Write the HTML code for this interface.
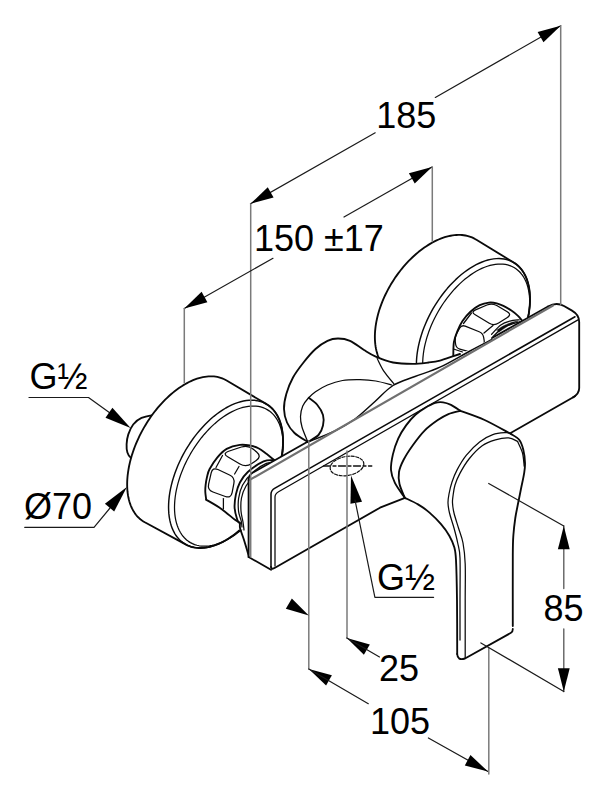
<!DOCTYPE html>
<html><head><meta charset="utf-8"><style>
html,body{margin:0;padding:0;background:#fff;}
svg{display:block;}
text{font-family:"Liberation Sans",sans-serif;}
</style></head><body>
<svg width="606" height="800" viewBox="0 0 606 800" stroke-linecap="round" stroke-linejoin="round">
<rect width="606" height="800" fill="#fff"/>
<path d="M374.88,337.95 L374.88,335.71 L374.96,333.43 L375.1,331.13 L375.32,328.79 L375.6,326.42 L375.96,324.03 L376.38,321.62 L376.88,319.19 L377.45,316.74 L378.08,314.28 L378.78,311.81 L379.55,309.34 L380.38,306.85 L381.28,304.37 L382.24,301.89 L383.26,299.42 L384.35,296.95 L385.49,294.49 L386.7,292.05 L387.96,289.63 L389.27,287.22 L390.64,284.84 L392.07,282.48 L393.54,280.15 L395.06,277.86 L396.63,275.6 L398.24,273.37 L399.9,271.19 L401.6,269.04 L403.33,266.95 L405.11,264.9 L406.91,262.9 L408.75,260.95 L410.62,259.06 L412.52,257.22 L414.44,255.45 L416.39,253.74 L418.36,252.09 L420.35,250.5 L422.35,248.98 L424.36,247.54 L426.39,246.16 L428.43,244.86 L430.47,243.63 L432.51,242.48 L434.56,241.4 L436.6,240.41 L438.65,239.49 L440.68,238.66 L442.71,237.9 L444.72,237.23 L446.72,236.65 L448.71,236.15 L450.68,235.73 L452.62,235.4 L454.55,235.15 L456.44,235 L458.31,234.92 L460.15,234.94 L461.96,235.04 L463.73,235.23 L465.47,235.5 L467.16,235.86 L468.82,236.31 L470.43,236.84 L472,237.46 L473.52,238.15 L474.99,238.94 L476.41,239.8 L514.07,262.74 L515.42,263.63 L516.72,264.61 L517.97,265.67 L519.16,266.81 L520.3,268.02 L521.38,269.32 L522.4,270.69 L523.36,272.14 L524.26,273.66 L525.1,275.25 L525.87,276.91 L526.58,278.64 L527.23,280.43 L527.81,282.29 L528.32,284.2 L528.77,286.18 L529.15,288.21 L529.46,290.29 L529.7,292.42 L529.87,294.6 L529.97,296.83 L530.01,299.1 L529.97,301.41 L529.87,303.76 L529.7,306.14 L529.46,308.55 L529.15,310.99 L528.77,313.46 L528.32,315.94 L527.81,318.45 L527.23,320.98 L526.58,323.51 L525.87,326.06 L525.1,328.62 L524.26,331.18 L523.36,333.74 L522.4,336.29 L521.38,338.85 L520.3,341.39 L519.16,343.92 L517.97,346.44 L516.72,348.94 L515.42,351.42 L514.07,353.88 L512.66,356.3 L511.21,358.7 L509.72,361.07 L508.18,363.4 L506.59,365.69 L504.97,367.94 L503.3,370.15 L501.6,372.31 L499.87,374.42 L498.1,376.48 L496.31,378.49 L494.48,380.44 L492.63,382.33 L490.76,384.15 L488.86,385.92 L486.94,387.62 L485.01,389.25 L483.06,390.81 L481.11,392.3 L479.14,393.71 L477.16,395.05 L475.18,396.32 L473.2,397.5 L471.22,398.6 L469.24,399.63 L467.26,400.57 L465.29,401.43 L463.34,402.2 L461.39,402.89 L459.46,403.49 L457.54,404 L455.64,404.43 L453.77,404.76 L451.92,405.01 L450.09,405.17 L448.3,405.24 L446.53,405.22 L444.8,405.11 L443.1,404.91 L441.43,404.63 L439.81,404.25 L438.22,403.79 L436.68,403.24 L435.19,402.6 L433.74,401.87 L432.33,401.06 L430.98,400.17 L389.24,371.34 L387.93,370.31 L386.67,369.21 L385.46,368.03 L384.32,366.78 L383.24,365.45 L382.21,364.05 L381.25,362.58 L380.36,361.04 L379.53,359.43 L378.76,357.76 L378.06,356.03 L377.43,354.23 L376.87,352.38 L376.37,350.46 L375.95,348.5 L375.59,346.48 L375.31,344.42 L375.1,342.3 L374.95,340.14Z" stroke="#0a0a0a" stroke-width="1.85" fill="#fff"/>
<path d="M530.01,299.1 L529.93,295.71 L529.7,292.42 L529.31,289.24 L528.77,286.18 L528.07,283.24 L527.23,280.43 L526.24,277.77 L525.1,275.25 L523.82,272.89 L522.4,270.69 L520.84,268.66 L519.16,266.81 L517.35,265.13 L515.42,263.63 L513.37,262.32 L511.21,261.2 L508.95,260.28 L506.59,259.55 L504.14,259.02 L501.6,258.69 L498.99,258.56 L496.31,258.63 L493.56,258.9 L490.76,259.37 L487.9,260.05 L485.01,260.91 L482.09,261.98 L479.14,263.23 L476.17,264.67 L473.2,266.3 L470.23,268.11 L467.26,270.09 L464.31,272.24 L461.39,274.55 L458.5,277.02 L455.64,279.65 L452.84,282.41 L450.09,285.31 L447.41,288.34 L444.8,291.49 L442.26,294.75 L439.81,298.11 L437.45,301.56 L435.19,305.1 L433.03,308.71 L430.98,312.38 L429.05,316.11 L427.24,319.88 L425.56,323.68 L424,327.51 L422.58,331.34 L421.3,335.18 L420.16,339.01 L419.17,342.82 L418.33,346.6 L417.63,350.34 L417.09,354.03 L416.7,357.66 L416.47,361.22 L416.39,364.7 L416.47,368.09 L416.7,371.38 L417.09,374.56 L417.63,377.62 L418.33,380.56 L419.17,383.37 L420.16,386.03 L421.3,388.55 L422.58,390.91 L424,393.11 L425.56,395.14 L427.24,396.99 L429.05,398.67 L430.98,400.17 L433.03,401.48 L435.19,402.6 L437.45,403.52 L439.81,404.25 L442.26,404.78 L444.8,405.11 L447.41,405.24 L450.09,405.17 L452.84,404.9 L455.64,404.43 L458.5,403.75 L461.39,402.89 L464.31,401.82 L467.26,400.57 L470.23,399.13 L473.2,397.5 L476.17,395.69 L479.14,393.71 L482.09,391.56 L485.01,389.25 L487.9,386.78 L490.76,384.15 L493.56,381.39 L496.31,378.49 L498.99,375.46 L501.6,372.31 L504.14,369.05 L506.59,365.69 L508.95,362.24 L511.21,358.7 L513.37,355.09 L515.42,351.42 L517.35,347.69 L519.16,343.92 L520.84,340.12 L522.4,336.29 L523.82,332.46 L525.1,328.62 L526.24,324.79 L527.23,320.98 L528.07,317.2 L528.77,313.46 L529.31,309.77 L529.7,306.14 L529.93,302.58 L530.01,299.1Z" stroke="#0a0a0a" stroke-width="1.45" fill="none"/>
<path d="M529.72,302.2 L529.65,299.01 L529.43,295.91 L529.06,292.91 L528.55,290.03 L527.9,287.26 L527.1,284.62 L526.16,282.11 L525.09,279.74 L523.89,277.51 L522.55,275.44 L521.08,273.53 L519.5,271.78 L517.79,270.19 L515.97,268.78 L514.04,267.55 L512.01,266.5 L509.88,265.63 L507.66,264.94 L505.35,264.44 L502.96,264.13 L500.5,264.01 L497.97,264.07 L495.38,264.33 L492.74,264.78 L490.05,265.41 L487.33,266.23 L484.57,267.23 L481.79,268.41 L479,269.77 L476.2,271.3 L473.4,273 L470.61,274.87 L467.83,276.89 L465.07,279.07 L462.35,281.4 L459.66,283.87 L457.02,286.48 L454.43,289.21 L451.9,292.06 L449.44,295.03 L447.05,298.1 L444.74,301.27 L442.52,304.52 L440.39,307.85 L438.36,311.25 L436.43,314.71 L434.61,318.22 L432.9,321.77 L431.32,325.36 L429.85,328.96 L428.51,332.58 L427.31,336.19 L426.24,339.8 L425.3,343.39 L424.5,346.95 L423.85,350.48 L423.34,353.95 L422.97,357.37 L422.75,360.72 L422.68,364 L422.75,367.19 L422.97,370.29 L423.34,373.29 L423.85,376.17 L424.5,378.94 L425.3,381.58 L426.24,384.09 L427.31,386.46 L428.51,388.69 L429.85,390.76 L431.32,392.67 L432.9,394.42 L434.61,396.01 L436.43,397.42 L438.36,398.65 L440.39,399.7 L442.52,400.57 L444.74,401.26 L447.05,401.76 L449.44,402.07 L451.9,402.19 L454.43,402.13 L457.02,401.87 L459.66,401.42 L462.35,400.79 L465.07,399.97 L467.83,398.97 L470.61,397.79 L473.4,396.43 L476.2,394.9 L479,393.2 L481.79,391.33 L484.57,389.31 L487.33,387.13 L490.05,384.8 L492.74,382.33 L495.38,379.72 L497.97,376.99 L500.5,374.14 L502.96,371.17 L505.35,368.1 L507.66,364.93 L509.88,361.68 L512.01,358.35 L514.04,354.95 L515.97,351.49 L517.79,347.98 L519.5,344.43 L521.08,340.84 L522.55,337.24 L523.89,333.62 L525.09,330.01 L526.16,326.4 L527.1,322.81 L527.9,319.25 L528.55,315.72 L529.06,312.25 L529.43,308.83 L529.65,305.48 L529.72,302.2Z" stroke="#0a0a0a" stroke-width="1.25" fill="none"/>
<path d="M453.3,358 C453.3,357.57 453.2,358.03 453.3,355.4 C453.4,352.77 453.25,346.17 453.9,342.2 C454.55,338.23 455.77,335.12 457.2,331.6 C458.63,328.08 460.3,324.4 462.5,321.1 C464.7,317.8 467.53,314.45 470.4,311.8 C473.27,309.15 476.62,306.73 479.7,305.2 C482.78,303.67 486.05,302.92 488.9,302.6 C491.75,302.28 494.38,302.75 496.8,303.3 C499.22,303.85 500.97,304.7 503.4,305.9 C505.83,307.1 508.97,308.85 511.4,310.5 C513.83,312.15 516.23,314.13 518,315.8 C519.77,317.47 521.33,319.72 522,320.5 L520,345 L453,362Z" stroke="#fff" stroke-width="0.1" fill="#fff"/>
<path d="M453.3,358 C453.3,357.57 453.2,358.03 453.3,355.4 C453.4,352.77 453.25,346.17 453.9,342.2 C454.55,338.23 455.77,335.12 457.2,331.6 C458.63,328.08 460.3,324.4 462.5,321.1 C464.7,317.8 467.53,314.45 470.4,311.8 C473.27,309.15 476.62,306.73 479.7,305.2 C482.78,303.67 486.05,302.92 488.9,302.6 C491.75,302.28 494.38,302.75 496.8,303.3 C499.22,303.85 500.97,304.7 503.4,305.9 C505.83,307.1 508.97,308.85 511.4,310.5 C513.83,312.15 516.23,314.13 518,315.8 C519.77,317.47 521.33,319.72 522,320.5" stroke="#0a0a0a" stroke-width="1.85" fill="none"/>
<path d="M475.23,314.81 Q470.5,312 475.56,309.84 L486.94,304.96 Q492,302.8 496.75,305.58 L507.25,311.72 Q512,314.5 507.37,317.46 L498.63,323.04 Q494,326 489.27,323.19Z" stroke="#0a0a0a" stroke-width="1.25" fill="none"/>
<path d="M459.59,328.21 Q461.5,324.7 465.22,326.18 L479.18,331.72 Q482.9,333.2 483.6,337.14 L484.2,340.56 Q484.9,344.5 481.33,346.3 L473.57,350.2 Q470,352 466.15,350.9 L459.85,349.1 Q456,348 455.57,344.02 L455.23,340.98 Q454.8,337 456.71,333.49Z" stroke="#0a0a0a" stroke-width="1.25" fill="none"/>
<path d="M471.5,313 L463.5,323.5" stroke="#0a0a0a" stroke-width="1.25" fill="none"/>
<path d="M493,325.5 L484,333" stroke="#0a0a0a" stroke-width="1.25" fill="none"/>
<path d="M453.5,349 L462.5,352" stroke="#0a0a0a" stroke-width="1.25" fill="none"/>
<path d="M491.6,334.3 C493.13,332.75 497.73,327.2 500.8,325 C503.87,322.8 506.92,321.97 510,321.1 C513.08,320.23 517.75,320.02 519.3,319.8" stroke="#0a0a0a" stroke-width="1.25" fill="none"/>
<path d="M492.9,336.6 C494.65,335.07 499.88,329.6 503.4,327.4 C506.92,325.2 510.9,324.4 514,323.4 C517.1,322.4 520.67,321.73 522,321.4" stroke="#0a0a0a" stroke-width="1.25" fill="none"/>
<path d="M497,330 Q506,323 518,321 Q508,325 499,332Z" stroke="#0a0a0a" stroke-width="0.5" fill="#0a0a0a"/>
<path d="M307.8,442 C305.58,440.5 297.97,436.25 294.5,433 C291.03,429.75 288.75,426.5 287,422.5 C285.25,418.5 284.12,413.75 284,409 C283.88,404.25 284.8,399.25 286.3,394 C287.8,388.75 290.13,382.75 293,377.5 C295.87,372.25 299.75,367.25 303.5,362.5 C307.25,357.75 311.5,352.62 315.5,349 C319.5,345.38 323.75,342.55 327.5,340.8 C331.25,339.05 334.25,338.5 338,338.5 C341.75,338.5 345.67,338.88 350,340.8 C354.33,342.72 359.7,347.37 364,350 C368.3,352.63 370.97,354.52 375.8,356.6 C380.63,358.68 386.83,361.28 393,362.5 C399.17,363.72 406.87,363.9 412.8,363.9 C418.73,363.9 424.07,363.05 428.6,362.5 C433.13,361.95 436,361.62 440,360.6 C444,359.58 449.27,357.5 452.6,356.4 C455.93,355.3 458.77,354.4 460,354 L492,339.5 L308,441Z" stroke="#fff" stroke-width="0.1" fill="#fff"/>
<path d="M307.8,442 C305.58,440.5 297.97,436.25 294.5,433 C291.03,429.75 288.75,426.5 287,422.5 C285.25,418.5 284.12,413.75 284,409 C283.88,404.25 284.8,399.25 286.3,394 C287.8,388.75 290.13,382.75 293,377.5 C295.87,372.25 299.75,367.25 303.5,362.5 C307.25,357.75 311.5,352.62 315.5,349 C319.5,345.38 323.75,342.55 327.5,340.8 C331.25,339.05 334.25,338.5 338,338.5 C341.75,338.5 345.67,338.88 350,340.8 C354.33,342.72 359.7,347.37 364,350 C368.3,352.63 370.97,354.52 375.8,356.6 C380.63,358.68 386.83,361.28 393,362.5 C399.17,363.72 406.87,363.9 412.8,363.9 C418.73,363.9 424.07,363.05 428.6,362.5 C433.13,361.95 436,361.62 440,360.6 C444,359.58 449.27,357.5 452.6,356.4 C455.93,355.3 458.77,354.4 460,354" stroke="#0a0a0a" stroke-width="1.85" fill="none"/>
<path d="M377.2,358.5 C378.3,360.6 380.95,366.8 383.8,371.1 C386.65,375.4 392.55,382.1 394.3,384.3" stroke="#0a0a0a" stroke-width="1.25" fill="none"/>
<path d="M156,414.5 C153.58,415.07 145.3,416.23 141.5,417.9 C137.7,419.57 135.4,421.75 133.2,424.5 C131,427.25 129.4,431.1 128.3,434.4 C127.2,437.7 126.75,441.28 126.6,444.3 C126.45,447.32 126.67,450.22 127.4,452.5 C128.13,454.78 128.9,456.75 131,458 C133.1,459.25 136.83,463 140,460 C143.17,457 148.33,443.33 150,440" stroke="#0a0a0a" stroke-width="1.85" fill="#fff"/>
<path d="M127.15,484.4 L127.19,482.05 L127.29,479.66 L127.47,477.23 L127.71,474.78 L128.03,472.29 L128.42,469.78 L128.87,467.25 L129.39,464.69 L129.98,462.12 L130.64,459.54 L131.36,456.94 L132.15,454.34 L133.01,451.74 L133.92,449.13 L134.9,446.53 L135.94,443.93 L137.04,441.34 L138.2,438.76 L139.41,436.19 L140.69,433.65 L142.01,431.12 L143.39,428.62 L144.81,426.15 L146.29,423.71 L147.82,421.3 L149.38,418.92 L151,416.59 L152.65,414.3 L154.34,412.05 L156.08,409.85 L157.84,407.7 L159.64,405.6 L161.47,403.56 L163.33,401.58 L165.21,399.65 L167.12,397.79 L169.05,395.99 L171.01,394.26 L172.97,392.6 L174.95,391.01 L176.95,389.5 L178.95,388.06 L180.96,386.69 L182.98,385.41 L185,384.2 L187.02,383.08 L189.04,382.03 L191.05,381.07 L193.05,380.2 L195.05,379.41 L197.03,378.72 L198.99,378.1 L200.95,377.58 L202.88,377.15 L204.79,376.81 L206.67,376.55 L208.53,376.39 L210.36,376.32 L212.16,376.34 L213.92,376.45 L215.66,376.65 L217.35,376.94 L219,377.33 L220.62,377.8 L222.18,378.36 L223.71,379.01 L225.19,379.75 L226.61,380.57 L266.98,404.41 L268.34,405.31 L269.65,406.29 L270.91,407.36 L272.11,408.51 L273.26,409.74 L274.34,411.04 L275.37,412.43 L276.34,413.89 L277.25,415.42 L278.09,417.02 L278.87,418.7 L279.59,420.44 L280.24,422.24 L280.83,424.11 L281.34,426.04 L281.79,428.03 L282.17,430.07 L282.49,432.17 L282.73,434.32 L282.9,436.52 L283.01,438.76 L283.04,441.05 L283.01,443.38 L282.9,445.74 L282.73,448.14 L282.49,450.57 L282.17,453.03 L281.79,455.52 L281.34,458.02 L280.83,460.55 L280.24,463.09 L279.59,465.65 L278.87,468.22 L278.09,470.79 L277.25,473.37 L276.34,475.95 L275.37,478.53 L274.34,481.1 L273.26,483.66 L272.11,486.21 L270.91,488.75 L269.65,491.27 L268.34,493.77 L266.98,496.24 L265.56,498.69 L264.1,501.11 L262.59,503.49 L261.04,505.84 L259.45,508.15 L257.81,510.42 L256.13,512.64 L254.42,514.82 L252.67,516.95 L250.89,519.02 L249.08,521.04 L247.24,523.01 L245.38,524.91 L243.49,526.75 L241.58,528.53 L239.65,530.24 L237.7,531.88 L235.74,533.46 L233.77,534.96 L231.78,536.38 L229.79,537.73 L227.8,539.01 L225.8,540.2 L223.8,541.31 L221.81,542.34 L219.82,543.29 L217.83,544.16 L215.86,544.93 L213.9,545.63 L211.95,546.23 L210.02,546.75 L208.11,547.18 L206.22,547.52 L204.36,547.77 L202.52,547.93 L200.71,548 L198.93,547.98 L197.18,547.87 L195.47,547.67 L193.79,547.38 L192.15,547 L190.56,546.54 L189.01,545.98 L187.5,545.34 L186.04,544.61 L144.81,522.25 L143.39,521.43 L142.01,520.52 L140.69,519.52 L139.41,518.45 L138.2,517.29 L137.04,516.04 L135.94,514.72 L134.9,513.33 L133.92,511.85 L133.01,510.3 L132.15,508.68 L131.36,506.99 L130.64,505.23 L129.98,503.41 L129.39,501.52 L128.87,499.57 L128.42,497.56 L128.03,495.49 L127.71,493.37 L127.47,491.2 L127.29,488.98 L127.19,486.71Z" stroke="#0a0a0a" stroke-width="1.85" fill="#fff"/>
<path d="M283.04,441.05 L282.96,437.64 L282.73,434.32 L282.34,431.12 L281.79,428.03 L281.09,425.07 L280.24,422.24 L279.24,419.56 L278.09,417.02 L276.8,414.64 L275.37,412.43 L273.81,410.38 L272.11,408.51 L270.29,406.82 L268.34,405.31 L266.28,403.99 L264.1,402.86 L261.82,401.93 L259.45,401.2 L256.98,400.66 L254.42,400.33 L251.79,400.2 L249.08,400.27 L246.31,400.55 L243.49,401.02 L240.62,401.7 L237.7,402.57 L234.75,403.64 L231.78,404.91 L228.8,406.36 L225.8,408 L222.8,409.82 L219.82,411.82 L216.85,413.98 L213.9,416.32 L210.98,418.81 L208.11,421.45 L205.29,424.23 L202.52,427.16 L199.81,430.21 L197.18,433.38 L194.62,436.66 L192.15,440.05 L189.78,443.53 L187.5,447.09 L185.32,450.73 L183.26,454.43 L181.31,458.19 L179.49,461.99 L177.79,465.82 L176.23,469.67 L174.8,473.54 L173.51,477.41 L172.36,481.27 L171.36,485.11 L170.51,488.92 L169.81,492.68 L169.26,496.4 L168.87,500.06 L168.64,503.65 L168.56,507.15 L168.64,510.56 L168.87,513.88 L169.26,517.08 L169.81,520.17 L170.51,523.13 L171.36,525.96 L172.36,528.64 L173.51,531.18 L174.8,533.56 L176.23,535.77 L177.79,537.82 L179.49,539.69 L181.31,541.38 L183.26,542.89 L185.32,544.21 L187.5,545.34 L189.78,546.27 L192.15,547 L194.62,547.54 L197.18,547.87 L199.81,548 L202.52,547.93 L205.29,547.65 L208.11,547.18 L210.98,546.5 L213.9,545.63 L216.85,544.56 L219.82,543.29 L222.8,541.84 L225.8,540.2 L228.8,538.38 L231.78,536.38 L234.75,534.22 L237.7,531.88 L240.62,529.39 L243.49,526.75 L246.31,523.97 L249.08,521.04 L251.79,517.99 L254.42,514.82 L256.98,511.54 L259.45,508.15 L261.82,504.67 L264.1,501.11 L266.28,497.47 L268.34,493.77 L270.29,490.01 L272.11,486.21 L273.81,482.38 L275.37,478.53 L276.8,474.66 L278.09,470.79 L279.24,466.93 L280.24,463.09 L281.09,459.28 L281.79,455.52 L282.34,451.8 L282.73,448.14 L282.96,444.55 L283.04,441.05Z" stroke="#0a0a0a" stroke-width="1.45" fill="none"/>
<path d="M283.1,444.75 L283.02,441.51 L282.8,438.37 L282.43,435.33 L281.91,432.4 L281.25,429.59 L280.44,426.91 L279.49,424.36 L278.4,421.96 L277.18,419.7 L275.82,417.6 L274.34,415.66 L272.73,413.88 L271,412.28 L269.15,410.85 L267.19,409.6 L265.13,408.53 L262.97,407.64 L260.72,406.95 L258.37,406.44 L255.95,406.13 L253.45,406 L250.89,406.07 L248.26,406.33 L245.58,406.78 L242.85,407.42 L240.09,408.25 L237.29,409.27 L234.48,410.47 L231.64,411.85 L228.8,413.4 L225.96,415.13 L223.12,417.02 L220.31,419.08 L217.51,421.29 L214.75,423.65 L212.02,426.16 L209.34,428.8 L206.71,431.57 L204.15,434.47 L201.65,437.48 L199.23,440.59 L196.88,443.8 L194.63,447.1 L192.47,450.48 L190.41,453.93 L188.45,457.44 L186.6,461.01 L184.87,464.61 L183.26,468.24 L181.78,471.9 L180.42,475.57 L179.2,479.24 L178.11,482.9 L177.16,486.54 L176.35,490.15 L175.69,493.73 L175.17,497.26 L174.8,500.72 L174.58,504.13 L174.5,507.45 L174.58,510.69 L174.8,513.83 L175.17,516.87 L175.69,519.8 L176.35,522.61 L177.16,525.29 L178.11,527.84 L179.2,530.24 L180.42,532.5 L181.78,534.6 L183.26,536.54 L184.87,538.32 L186.6,539.92 L188.45,541.35 L190.41,542.6 L192.47,543.67 L194.63,544.56 L196.88,545.25 L199.23,545.76 L201.65,546.07 L204.15,546.2 L206.71,546.13 L209.34,545.87 L212.02,545.42 L214.75,544.78 L217.51,543.95 L220.31,542.93 L223.12,541.73 L225.96,540.35 L228.8,538.8 L231.64,537.07 L234.48,535.18 L237.29,533.12 L240.09,530.91 L242.85,528.55 L245.58,526.04 L248.26,523.4 L250.89,520.63 L253.45,517.73 L255.95,514.72 L258.37,511.61 L260.72,508.4 L262.97,505.1 L265.13,501.72 L267.19,498.27 L269.15,494.76 L271,491.19 L272.73,487.59 L274.34,483.96 L275.82,480.3 L277.18,476.63 L278.4,472.96 L279.49,469.3 L280.44,465.66 L281.25,462.05 L281.91,458.47 L282.43,454.94 L282.8,451.48 L283.02,448.07 L283.1,444.75Z" stroke="#0a0a0a" stroke-width="1.25" fill="none"/>
<path d="M206.2,499.7 C206.05,498.42 205.4,494.42 205.3,492 C205.2,489.58 205.32,487.7 205.6,485.2 C205.88,482.7 206.35,479.65 207,477 C207.65,474.35 207.77,472.57 209.5,469.3 C211.23,466.03 214.53,460.8 217.4,457.4 C220.27,454 222.95,450.98 226.7,448.9 C230.45,446.82 235.95,445.45 239.9,444.9 C243.85,444.35 247.32,445.05 250.4,445.6 C253.48,446.15 255.8,446.88 258.4,448.2 C261,449.52 263.37,451.52 266,453.5 C268.63,455.48 272.83,459 274.2,460.1 L277,462 L262,528 L240,530Z" stroke="#fff" stroke-width="0.1" fill="#fff"/>
<path d="M206.2,499.7 C206.05,498.42 205.4,494.42 205.3,492 C205.2,489.58 205.32,487.7 205.6,485.2 C205.88,482.7 206.35,479.65 207,477 C207.65,474.35 207.77,472.57 209.5,469.3 C211.23,466.03 214.53,460.8 217.4,457.4 C220.27,454 222.95,450.98 226.7,448.9 C230.45,446.82 235.95,445.45 239.9,444.9 C243.85,444.35 247.32,445.05 250.4,445.6 C253.48,446.15 255.8,446.88 258.4,448.2 C261,449.52 263.37,451.52 266,453.5 C268.63,455.48 272.83,459 274.2,460.1" stroke="#0a0a0a" stroke-width="1.85" fill="none"/>
<path d="M228.05,457.03 Q222,453.5 228.64,451.28 L241.36,447.02 Q248,444.8 253.37,449.29 L256.63,452.01 Q262,456.5 256.23,460.47 L251.77,463.53 Q246,467.5 239.95,463.97Z" stroke="#0a0a0a" stroke-width="1.25" fill="none"/>
<path d="M211.18,472.85 Q212.5,467 217.94,469.54 L229.56,474.96 Q235,477.5 233.88,483.39 L232.12,492.61 Q231,498.5 225.35,496.47 L212.95,492.03 Q207.3,490 208.62,484.15Z" stroke="#0a0a0a" stroke-width="1.25" fill="none"/>
<path d="M222.5,455.5 L216,467.5" stroke="#0a0a0a" stroke-width="1.25" fill="none"/>
<path d="M239,466.5 L234.6,474" stroke="#0a0a0a" stroke-width="1.25" fill="none"/>
<path d="M239.9,522.8 C239.02,522.25 237.68,521.82 234.6,519.5 C231.52,517.18 226.13,512.2 221.4,508.9 C216.67,505.6 208.73,501.23 206.2,499.7" stroke="#0a0a0a" stroke-width="1.85" fill="none"/>
<path d="M223.4,498.5 L223.4,508.9" stroke="#0a0a0a" stroke-width="1.25" fill="none"/>
<path d="M274.2,460.1 C272.43,460.32 268,459.42 263.6,461.4 C259.2,463.38 251.75,468.48 247.8,472 C243.85,475.52 241.88,478.77 239.9,482.5 C237.92,486.23 236.78,490.22 235.9,494.4 C235.02,498.58 234.38,503.42 234.6,507.6 C234.82,511.78 236.32,516.85 237.2,519.5 C238.08,522.15 239.45,522.83 239.9,523.5" stroke="#0a0a0a" stroke-width="1.85" fill="none"/>
<path d="M276,463 C274.38,463.07 270.33,461.68 266.3,463.4 C262.27,465.12 255.77,469.67 251.8,473.3 C247.83,476.93 244.7,481.02 242.5,485.2 C240.3,489.38 239.25,494 238.6,498.4 C237.95,502.8 238.17,507.87 238.6,511.6 C239.03,515.33 240.63,518.23 241.2,520.8 C241.77,523.37 241.87,525.97 242,527" stroke="#0a0a0a" stroke-width="1.25" fill="none"/>
<path d="M277,465 C275.43,465.07 271.27,463.73 267.6,465.4 C263.93,467.07 258.6,471.57 255,475 C251.4,478.43 248.25,482.17 246,486 C243.75,489.83 242.33,493.83 241.5,498 C240.67,502.17 240.75,507 241,511 C241.25,515 242.5,518.83 243,522 C243.5,525.17 243.83,528.67 244,530" stroke="#0a0a0a" stroke-width="1.25" fill="none"/>
<path d="M239.9,523.5 C239.95,524.37 239.52,525.95 240.2,528.7 C240.88,531.45 242.57,535.45 244,540 C245.43,544.55 248,553.33 248.8,556" stroke="#0a0a0a" stroke-width="1.85" fill="none"/>
<path d="M248.6,557 L248.6,474.99 L557,301.45 L579.2,314.37 L579.2,393.78 L271,570.07 Z" stroke="#fff" stroke-width="0.1" fill="#fff"/>
<path d="M391.7,385 C389.05,384.33 381.08,381.88 375.8,381 C370.52,380.12 365.55,379.78 360,379.7 C354.45,379.62 347.92,379.62 342.5,380.5 C337.08,381.38 332,383.12 327.5,385 C323,386.88 318.75,389.5 315.5,391.75 C312.25,394 310.12,396.12 308,398.5 C305.88,400.88 304,403 302.75,406 C301.5,409 300.62,413 300.5,416.5 C300.38,420 300.78,422.75 302,427 C303.22,431.25 306.83,439.5 307.8,442" stroke="#0a0a0a" stroke-width="1.25" fill="none"/>
<path d="M308.75,397.75 C310.12,398.88 314.62,401.62 317,404.5 C319.38,407.38 322,411.5 323,415 C324,418.5 323.75,422.17 323,425.5 C322.25,428.83 321.03,432.25 318.5,435 C315.97,437.75 309.58,440.83 307.8,442" stroke="#0a0a0a" stroke-width="1.85" fill="none"/>
<path d="M248.6,557 L248.6,480" stroke="#0a0a0a" stroke-width="1.85" fill="none"/>
<path d="M248.6,480 Q248.6,474.99 253,472.51 L308,441.56" stroke="#0a0a0a" stroke-width="1.85" fill="none"/>
<path d="M307.8,442 C312.33,440.13 327.13,434.63 335,430.8 C342.87,426.97 348.33,423.88 355,419 C361.67,414.12 368.67,407.08 375,401.5 C381.33,395.92 386.33,389.67 393,385.5 C399.67,381.33 407.17,379.55 415,376.5 C422.83,373.45 430.83,371.45 440,367.2 C449.17,362.95 461.33,355.62 470,351 C478.67,346.38 488.33,341.42 492,339.5" stroke="#0a0a0a" stroke-width="1.45" fill="none"/>
<path d="M492,338.03 L548,306.51" stroke="#0a0a0a" stroke-width="1.85" fill="none"/>
<path d="M548,306.51 Q556.5,301.73 564,306.06 L572,310.67 Q579.2,314.83 579.2,322 L579.2,388 Q579.2,393.78 573,397.33" stroke="#0a0a0a" stroke-width="1.85" fill="none"/>
<path d="M251,479.12 L553,305.48" stroke="#707070" stroke-width="2.2" fill="none"/>
<path d="M271,567 L271,494 Q271,490.35 275,488.06 L575,316.76" stroke="#0a0a0a" stroke-width="1.55" fill="none"/>
<path d="M275,566 L275,497 Q275,493.81 279,491.51 L578,319.89" stroke="#0a0a0a" stroke-width="1.25" fill="none"/>
<path d="M248.6,557 L271,569.7" stroke="#0a0a0a" stroke-width="1.85" fill="none"/>
<path d="M271,567 Q271.5,570.07 275,567.79 L380,507.73 L405,497.8" stroke="#0a0a0a" stroke-width="1.85" fill="none"/>
<path d="M505,436.23 L575,396.19" stroke="#0a0a0a" stroke-width="1.85" fill="none"/>
<path d="M404.8,497.8 C408.65,501.38 413.88,501.93 418,504.4 C422.12,506.87 425.67,509.3 429.5,512.6 C433.33,515.9 437.7,520.35 441,524.2 C444.3,528.05 447.08,531.85 449.3,535.7 C451.52,539.55 453.18,543.25 454.3,547.3 C455.42,551.35 455.55,551.22 456,560 C456.45,568.78 456.8,584.33 457,600 C457.2,615.67 456.7,644.17 457.2,654 C457.7,663.83 450.73,662.83 460,659 C469.27,655.17 504,636.5 512.8,631 C521.6,625.5 512.8,638.67 512.8,626 C512.8,613.33 512.7,570.17 512.8,555 C512.9,539.83 512.98,541.17 513.4,535 C513.82,528.83 514.6,522.87 515.3,518 C516,513.13 516.67,510.58 517.6,505.8 C518.53,501.02 519.8,494.8 520.9,489.3 C522,483.8 523.52,477.2 524.2,472.8 C524.88,468.4 525.15,466.75 525,462.9 C524.85,459.05 524.27,453.55 523.3,449.7 C522.33,445.85 521.25,442.42 519.2,439.8 C517.15,437.18 516.77,437.3 511,434 C505.23,430.7 493.07,423.87 484.6,420 C476.13,416.13 465.8,413.32 460.2,410.8 C454.6,408.28 453.85,406.32 451,404.9 C448.15,403.48 445.73,402.63 443.1,402.3 C440.47,401.97 438.28,401.92 435.2,402.9 C432.12,403.88 427.9,406.22 424.6,408.2 C421.3,410.18 418.48,411.93 415.4,414.8 C412.32,417.67 408.97,421.43 406.1,425.4 C403.23,429.37 400.4,433.77 398.2,438.6 C396,443.43 394.1,449.17 392.9,454.4 C391.7,459.63 390.67,465.25 391,470 C391.33,474.75 392.6,478.27 394.9,482.9 C397.2,487.53 400.95,494.22 404.8,497.8Z" stroke="#fff" stroke-width="0.1" fill="#fff"/>
<path d="M460.2,410.8 C458.67,409.82 453.85,406.32 451,404.9 C448.15,403.48 445.73,402.63 443.1,402.3 C440.47,401.97 438.28,401.92 435.2,402.9 C432.12,403.88 427.9,406.22 424.6,408.2 C421.3,410.18 418.48,411.93 415.4,414.8 C412.32,417.67 408.97,421.43 406.1,425.4 C403.23,429.37 400.4,433.77 398.2,438.6 C396,443.43 394.1,449.17 392.9,454.4 C391.7,459.63 390.67,465.25 391,470 C391.33,474.75 392.6,478.27 394.9,482.9 C397.2,487.53 403.15,495.32 404.8,497.8" stroke="#0a0a0a" stroke-width="1.85" fill="none"/>
<path d="M404.8,497.8 C403.92,495.5 400.47,488.3 399.5,484 C398.53,479.7 398.33,476 399,472 C399.67,468 401.17,464.5 403.5,460 C405.83,455.5 409.48,449.9 413,445 C416.52,440.1 420.47,434.75 424.6,430.6 C428.73,426.45 433.83,422.85 437.8,420.1 C441.77,417.35 444.67,415.65 448.4,414.1 C452.13,412.55 458.23,411.35 460.2,410.8" stroke="#0a0a0a" stroke-width="1.85" fill="none"/>
<path d="M460.2,410.8 C464.27,412.33 476.13,416.13 484.6,420 C493.07,423.87 506.6,431.67 511,434" stroke="#0a0a0a" stroke-width="1.85" fill="none"/>
<path d="M511,434 C512.37,434.97 517.15,437.18 519.2,439.8 C521.25,442.42 522.33,445.85 523.3,449.7 C524.27,453.55 524.85,459.05 525,462.9 C525.15,466.75 524.88,468.4 524.2,472.8 C523.52,477.2 522,483.8 520.9,489.3 C519.8,494.8 518.53,501.02 517.6,505.8 C516.67,510.58 516,513.13 515.3,518 C514.6,522.87 513.82,528.83 513.4,535 C512.98,541.17 512.9,539.83 512.8,555 C512.7,570.17 512.8,614.17 512.8,626" stroke="#0a0a0a" stroke-width="1.85" fill="none"/>
<path d="M509.3,433.2 C508.75,433.1 508.75,432.37 506,432.6 C503.25,432.83 497.2,433.05 492.8,434.6 C488.4,436.15 484,438.48 479.6,441.9 C475.2,445.32 470.13,450.48 466.4,455.1 C462.67,459.72 459.6,465.12 457.2,469.6 C454.8,474.08 453.37,477.93 452,482 C450.63,486.07 449.67,490.5 449,494 C448.33,497.5 447.92,499.83 448,503 C448.08,506.17 448.5,508.83 449.5,513 C450.5,517.17 452.63,523 454,528 C455.37,533 456.7,538 457.7,543 C458.7,548 459.62,548.5 460,558 C460.38,567.5 460,586.33 460,600 C460,613.67 460,633.33 460,640" stroke="#0a0a0a" stroke-width="1.25" fill="none"/>
<path d="M517.6,441.5 C516.1,440.9 512.3,438.17 508.6,437.9 C504.9,437.63 499.8,438.58 495.4,439.9 C491,441.22 486.6,442.62 482.2,445.8 C477.8,448.98 472.73,454.37 469,459 C465.27,463.63 462.13,469.27 459.8,473.6 C457.47,477.93 456.13,481.27 455,485 C453.87,488.73 453.42,493 453,496 C452.58,499 452.33,500.17 452.5,503 C452.67,505.83 453,508.83 454,513 C455,517.17 457,523 458.5,528 C460,533 461.88,537 463,543 C464.12,549 464.83,554.5 465.2,564 C465.57,573.5 465.2,584.33 465.2,600 C465.2,615.67 465.2,648.33 465.2,658" stroke="#0a0a0a" stroke-width="1.25" fill="none"/>
<path d="M517.6,441.5 C518.42,443.42 521.4,448.88 522.5,453 C523.6,457.12 523.92,464 524.2,466.2" stroke="#0a0a0a" stroke-width="1.25" fill="none"/>
<path d="M404.8,497.8 C407,498.9 413.88,501.93 418,504.4 C422.12,506.87 425.67,509.3 429.5,512.6 C433.33,515.9 437.7,520.35 441,524.2 C444.3,528.05 447.08,531.85 449.3,535.7 C451.52,539.55 453.18,543.25 454.3,547.3 C455.42,551.35 455.55,551.22 456,560 C456.45,568.78 456.8,584.33 457,600 C457.2,615.67 457.17,645 457.2,654" stroke="#0a0a0a" stroke-width="1.85" fill="none"/>
<path d="M457.2,654 Q457.5,661 465,658.5 L511,632.8 Q512.8,631.8 512.8,629" stroke="#0a0a0a" stroke-width="1.85" fill="none"/>
<path d="M250.5,203.8 L375.2,132.8" stroke="#1a1a1a" stroke-width="1.2" fill="none"/>
<path d="M435.3,97.4 L560.7,25.7" stroke="#1a1a1a" stroke-width="1.2" fill="none"/>
<path d="M250.5,203.8 L267.75,187.2 L273.58,197.46 Z" fill="#000"/>
<path d="M560.7,25.7 L543.47,42.32 L537.62,32.07 Z" fill="#000"/>
<path d="M250.7,204 L250.7,557" stroke="#7a7a7a" stroke-width="1.5" fill="none"/>
<path d="M560.7,25.7 L560.7,305" stroke="#7a7a7a" stroke-width="1.5" fill="none"/>
<text x="376.3" y="127.9" font-size="36" fill="#000">185</text>
<path d="M184.3,308.4 L273,258.3" stroke="#1a1a1a" stroke-width="1.2" fill="none"/>
<path d="M344,217 L432,167" stroke="#1a1a1a" stroke-width="1.2" fill="none"/>
<path d="M184.3,308.4 L201.6,291.85 L207.4,302.13 Z" fill="#000"/>
<path d="M432,167 L414.74,183.59 L408.91,173.33 Z" fill="#000"/>
<path d="M184.3,308.4 L184.3,383" stroke="#7a7a7a" stroke-width="1.5" fill="none"/>
<path d="M432.3,167 L432.3,241.5" stroke="#7a7a7a" stroke-width="1.5" fill="none"/>
<text x="254" y="250.9" font-size="36" fill="#000">150 ±17</text>
<text x="29.4" y="389.4" font-size="36" fill="#000">G½</text>
<path d="M29,397.5 L88.5,397.5 L110,413" stroke="#1a1a1a" stroke-width="1.2" fill="none"/>
<path d="M130.6,428 L105.48,417.63 L112.4,407.83 Z" fill="#000"/>
<text x="24" y="519.4" font-size="36" fill="#000">Ø70</text>
<path d="M24.7,527.3 L94,527.3 L110,508" stroke="#1a1a1a" stroke-width="1.2" fill="none"/>
<path d="M126.9,486.9 L114.19,511.48 L104.92,503.71 Z" fill="#000"/>
<ellipse cx="347" cy="466" rx="17" ry="9.5" stroke="#111" stroke-width="1.2" fill="none" stroke-dasharray="3,1.6" transform="rotate(-10 347 466)"/>
<path d="M323.5,466 L371.8,466" stroke="#111" stroke-width="1.3" fill="none" stroke-dasharray="7,2.5,3,2.5"/>
<path d="M347,451 L347,638" stroke="#7a7a7a" stroke-width="1.5" fill="none"/>
<path d="M351,475.5 L362.04,501.63 L350.46,503.87 Z" fill="#000"/>
<path d="M355,500 L374.9,597.3 L433.6,597.3" stroke="#1a1a1a" stroke-width="1.2" fill="none"/>
<text x="377.1" y="589.9" font-size="36" fill="#000">G½</text>
<path d="M308.8,441 L308.8,669" stroke="#7a7a7a" stroke-width="1.5" fill="none"/>
<path d="M346.8,638 L369.83,644.52 L363.92,654.73 Z" fill="#000"/>
<path d="M346.8,638 L379.5,656.9" stroke="#1a1a1a" stroke-width="1.2" fill="none"/>
<path d="M308.8,615.5 L285.83,608.76 L291.84,598.6 Z" fill="#000"/>
<text x="379" y="680.9" font-size="36" fill="#000">25</text>
<path d="M308.8,669 L331.9,675.27 L326.1,685.55 Z" fill="#000"/>
<path d="M308.8,669 L368.3,703.7" stroke="#1a1a1a" stroke-width="1.2" fill="none"/>
<path d="M428.4,738 L488,771.4" stroke="#1a1a1a" stroke-width="1.2" fill="none"/>
<path d="M488,771.4 L464.8,765.49 L470.45,755.12 Z" fill="#000"/>
<path d="M488.8,648 L488.8,774" stroke="#7a7a7a" stroke-width="1.5" fill="none"/>
<text x="370" y="733.9" font-size="36" fill="#000">105</text>
<path d="M563.8,526 L563.8,588.5" stroke="#555" stroke-width="1.3" fill="none"/>
<path d="M563.8,629 L563.8,691.5" stroke="#555" stroke-width="1.3" fill="none"/>
<path d="M563.8,526 L569.7,549.2 L557.9,549.2 Z" fill="#000"/>
<path d="M563.8,691.5 L557.9,668.3 L569.7,668.3 Z" fill="#000"/>
<path d="M488.7,483.5 L563.8,526" stroke="#1a1a1a" stroke-width="1.2" fill="none"/>
<path d="M480.9,642.9 L563.8,691.5" stroke="#1a1a1a" stroke-width="1.2" fill="none"/>
<text x="543.6" y="621.4" font-size="36" fill="#000">85</text>
</svg></body></html>
